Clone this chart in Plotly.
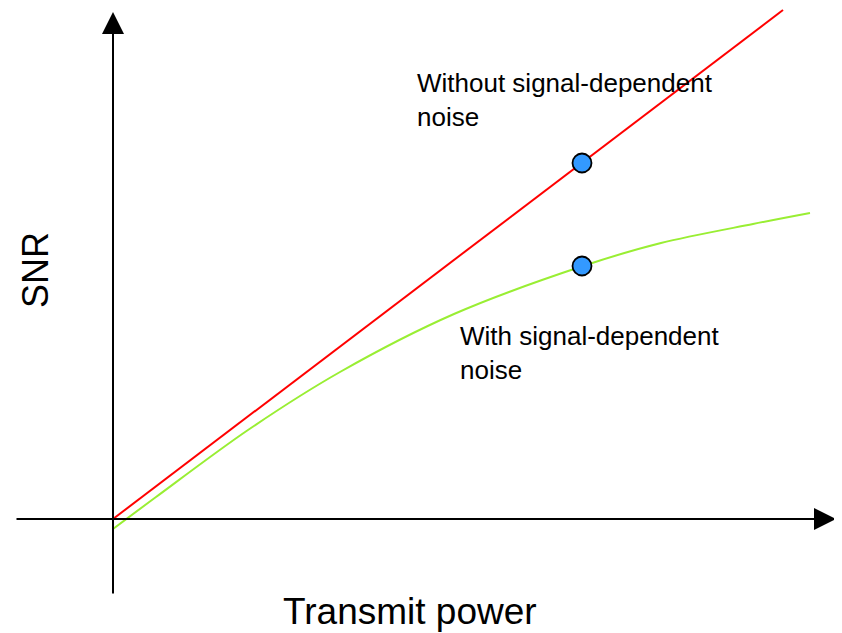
import plotly.graph_objects as go

# Schematic data (arbitrary units: transmit power vs SNR)
power_ideal = [0.0, 6.70]
snr_ideal = [0.0, 5.09]

power_sdn = [0.0, 0.43, 1.35, 2.27, 3.41, 4.70, 5.48, 6.40, 6.97]
snr_sdn = [-0.10, 0.22, 0.89, 1.47, 2.05, 2.53, 2.76, 2.95, 3.06]

marker_power = [4.69, 4.69]
marker_snr = [3.56, 2.53]

x_axis_span = [-0.98, 7.23]
y_axis_span = [-0.76, 5.07]

label_ideal = "Without signal-dependent<br>noise"
label_sdn = "With signal-dependent<br>noise"
x_title = "Transmit power"
y_title = "SNR"

FONT = "Liberation Sans, Arial"

fig = go.Figure()

fig.add_trace(go.Scatter(x=power_ideal, y=snr_ideal, mode="lines",
                         line=dict(color="#FF0000", width=2), hoverinfo="skip"))
fig.add_trace(go.Scatter(x=power_sdn, y=snr_sdn, mode="lines",
                         line=dict(color="#99EE33", width=2, shape="spline", smoothing=0.9),
                         hoverinfo="skip"))
fig.add_trace(go.Scatter(x=marker_power, y=marker_snr, mode="markers",
                         marker=dict(size=19, color="#3399FF",
                                     line=dict(color="black", width=1.8)),
                         hoverinfo="skip"))

annotations = [
    dict(x=x_axis_span[1], y=0, ax=x_axis_span[0], ay=0, xref="x", yref="y",
         axref="x", ayref="y", text="", showarrow=True, arrowhead=2,
         arrowsize=2.2, arrowwidth=2, arrowcolor="black"),
    dict(x=0, y=y_axis_span[1], ax=0, ay=y_axis_span[0], xref="x", yref="y",
         axref="x", ayref="y", text="", showarrow=True, arrowhead=2,
         arrowsize=2.2, arrowwidth=2, arrowcolor="black"),
    dict(x=3.02, y=4.19, xref="x", yref="y", text=label_ideal, showarrow=False,
         xanchor="left", yanchor="middle", align="left",
         font=dict(family=FONT, size=26, color="black")),
    dict(x=3.45, y=1.66, xref="x", yref="y", text=label_sdn, showarrow=False,
         xanchor="left", yanchor="middle", align="left",
         font=dict(family=FONT, size=26, color="black")),
    dict(x=2.97, y=-0.92, xref="x", yref="y", text=x_title, showarrow=False,
         xanchor="center", yanchor="middle",
         font=dict(family=FONT, size=37, color="black")),
    dict(x=-0.78, y=2.49, xref="x", yref="y", text=y_title, showarrow=False,
         xanchor="center", yanchor="middle", textangle=-90,
         font=dict(family=FONT, size=36, color="black")),
]

fig.update_layout(
    width=834, height=625,
    margin=dict(l=0, r=0, t=0, b=0),
    paper_bgcolor="white", plot_bgcolor="white",
    showlegend=False,
    xaxis=dict(range=[-1.05, 7.29], visible=False, fixedrange=True),
    yaxis=dict(range=[-1.14, 5.11], visible=False, fixedrange=True),
    annotations=annotations,
)

fig.write_html("out.html")
